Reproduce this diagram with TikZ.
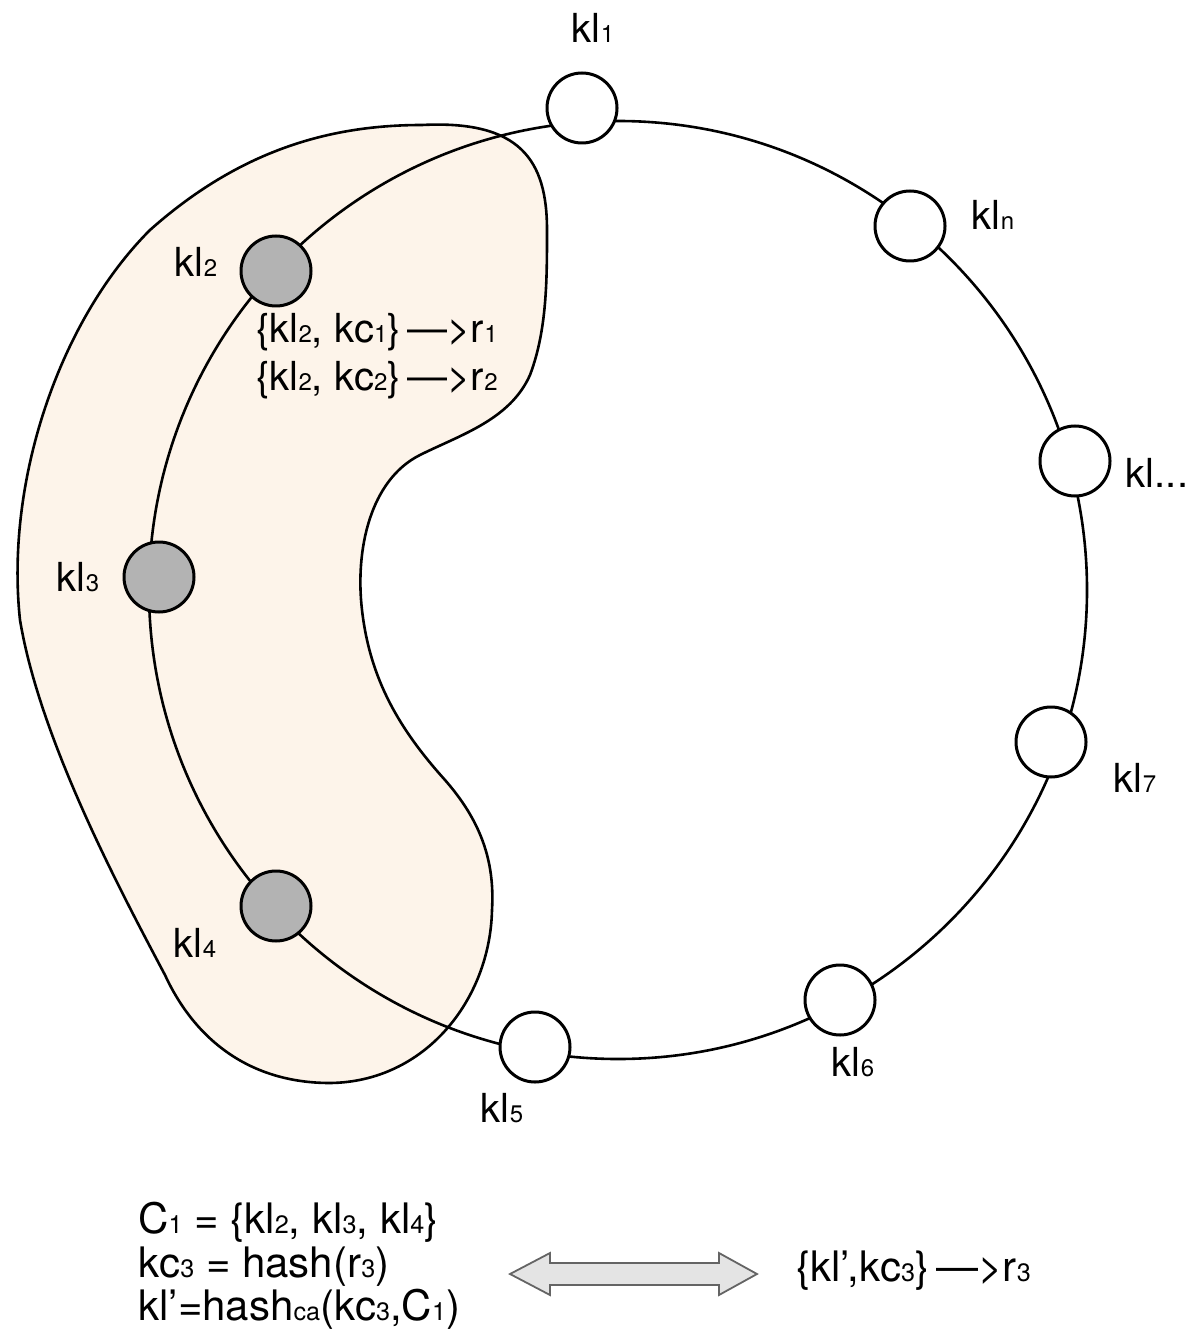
\documentclass[tikz,border=0pt]{standalone}
\usepackage{fontspec}
\setmainfont{TeX Gyre Heros}
\newcommand\lo[1]{{\fontsize{12}{12}\selectfont #1}}
\newcommand\lob[1]{{\fontsize{12.6}{12.6}\selectfont #1}}
\definecolor{blobfill}{RGB}{253,244,234}
\definecolor{nodegray}{RGB}{179,179,179}
\definecolor{arrowfill}{RGB}{228,228,228}
\definecolor{arrowline}{RGB}{100,100,100}
\begin{document}
\begin{tikzpicture}[x=0.5pt,y=-0.5pt,
  ringline/.style={circle, draw, line width=1.3pt, minimum size=469pt, inner sep=0pt},
  knode/.style={circle, draw, line width=1.5pt, minimum size=35pt, inner sep=0pt, fill=white},
  gnode/.style={knode, fill=nodegray},
  lbl/.style={font=\fontsize{20}{24}\selectfont, inner sep=0pt},
  blbl/.style={font=\fontsize{21}{24}\selectfont, inner sep=0pt},
  blob/.style={draw, line width=1.3pt, fill=blobfill},
  dbarrow/.style={draw=arrowline, line width=0.9pt, fill=arrowfill, line join=miter}]
\useasboundingbox (0,0) rectangle (1194,1331);
% cluster blob
\path[blob] (422,125) .. controls (520,120) and (547,160) .. (547,230)
  .. controls (547,280) and (547,330) .. (530,375)
  .. controls (510,420) and (460,435) .. (420,455)
  .. controls (370,480) and (355,550) .. (362,610)
  .. controls (370,680) and (400,730) .. (445,780)
  .. controls (480,820) and (495,860) .. (492,910)
  .. controls (490,1000) and (425,1082) .. (330,1083)
  .. controls (250,1083) and (195,1040) .. (165,975)
  .. controls (120,890) and (40,740) .. (20,620)
  .. controls (5,480) and (60,320) .. (150,230)
  .. controls (240,150) and (330,125) .. (422,125) -- cycle;
% ring
\node[ringline] (ring) at (618,590) {};
% nodes
\node[knode] (n1) at (582,108) {};
\node[knode] (nn) at (910,226) {};
\node[knode] (nd) at (1075,461) {};
\node[knode] (n7) at (1051,742) {};
\node[knode] (n6) at (840,1000) {};
\node[knode] (n5) at (535,1047) {};
\node[gnode] (n4) at (276,906) {};
\node[gnode] (n3) at (159,577) {};
\node[gnode] (n2) at (276,271) {};
% labels
\node[lbl] (l1) at (593,28) {kl\lo{1}};
\node[lbl] (ln) at (993,215) {kl\lo{n}};
\node[lbl] (ld) at (1157,473) {kl...};
\node[lbl] (l7) at (1135,778) {kl\lo{7}};
\node[lbl] (l6) at (853,1062) {kl\lo{6}};
\node[lbl] (l5) at (502,1108) {kl\lo{5}};
\node[lbl] (l4) at (195,943) {kl\lo{4}};
\node[lbl] (l3) at (78,577) {kl\lo{3}};
\node[lbl] (l2) at (196,262) {kl\lo{2}};
\node[lbl, anchor=base west] (t1) at (256,343) {\{kl\lo{2}, kc\lo{1}\}\,—>r\lo{1}};
\node[lbl, anchor=base west] (t2) at (256,391) {\{kl\lo{2}, kc\lo{2}\}\,—>r\lo{2}};
% bottom formulas
\node[blbl, anchor=base west] (f1) at (138,1233) {C\lob{1} = \{kl\lob{2}, kl\lob{3}, kl\lob{4}\}};
\node[blbl, anchor=base west] (f2) at (138,1277) {kc\lob{3} = hash(r\lob{3})};
\node[blbl, anchor=base west] (f3) at (138,1320) {kl’=hash\lob{ca}(kc\lob{3},C\lob{1})};
\node[blbl, anchor=base west] (rr) at (796,1281) {\{kl’,kc\lob{3}\}\,—>r\lob{3}};
% double arrow
\path[dbarrow] (510,1274) -- (550,1253) -- (550,1263) -- (719,1263) -- (719,1253)
  -- (757,1274) -- (719,1295) -- (719,1285) -- (550,1285) -- (550,1295) -- cycle;
\end{tikzpicture}
\end{document}
